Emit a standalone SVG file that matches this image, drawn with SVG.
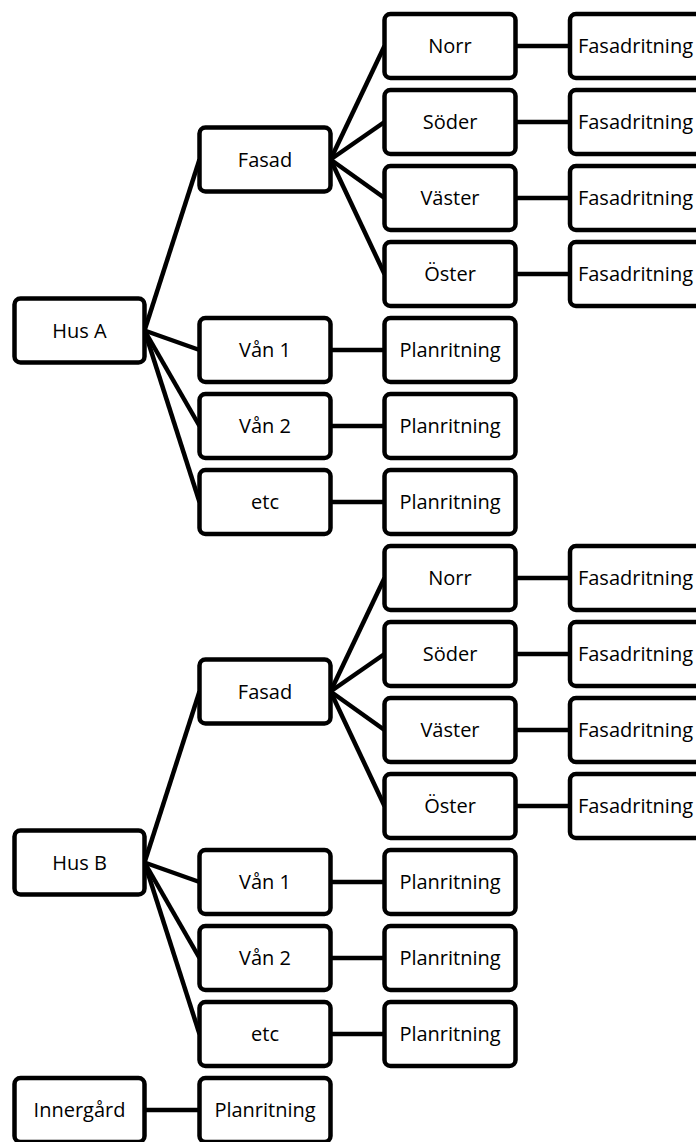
<svg xmlns="http://www.w3.org/2000/svg" width="696" height="1142" viewBox="0 0 696 1142">
<style>
.b{fill:#fff;stroke:#000;stroke-width:4.5}
.c line{stroke:#000;stroke-width:4.5}
text{font-family:"Open Sans","Liberation Sans",sans-serif;font-size:20px;text-anchor:middle;fill:#000}
</style>
<defs>
<rect id="r0" class="b" x="0" y="0" width="130" height="64" rx="6"/>
<rect id="r1" class="b" x="0" y="0" width="131" height="64" rx="6"/>
</defs>
<g class="c" id="connectors">
<line x1="144.5" y1="330.5" x2="199.5" y2="159.5"/>
<line x1="144.5" y1="330.5" x2="199.5" y2="350"/>
<line x1="144.5" y1="330.5" x2="199.5" y2="426"/>
<line x1="144.5" y1="330.5" x2="199.5" y2="502"/>
<line x1="330.5" y1="159.5" x2="384.5" y2="46"/>
<line x1="330.5" y1="159.5" x2="384.5" y2="122"/>
<line x1="330.5" y1="159.5" x2="384.5" y2="198"/>
<line x1="330.5" y1="159.5" x2="384.5" y2="274"/>
<line x1="515.5" y1="46" x2="570" y2="46"/>
<line x1="515.5" y1="122" x2="570" y2="122"/>
<line x1="515.5" y1="198" x2="570" y2="198"/>
<line x1="515.5" y1="274" x2="570" y2="274"/>
<line x1="330.5" y1="350" x2="384.5" y2="350"/>
<line x1="330.5" y1="426" x2="384.5" y2="426"/>
<line x1="330.5" y1="502" x2="384.5" y2="502"/>
<line x1="144.5" y1="862.5" x2="199.5" y2="691.5"/>
<line x1="144.5" y1="862.5" x2="199.5" y2="882"/>
<line x1="144.5" y1="862.5" x2="199.5" y2="958"/>
<line x1="144.5" y1="862.5" x2="199.5" y2="1034"/>
<line x1="330.5" y1="691.5" x2="384.5" y2="578"/>
<line x1="330.5" y1="691.5" x2="384.5" y2="654"/>
<line x1="330.5" y1="691.5" x2="384.5" y2="730"/>
<line x1="330.5" y1="691.5" x2="384.5" y2="806"/>
<line x1="515.5" y1="578" x2="570" y2="578"/>
<line x1="515.5" y1="654" x2="570" y2="654"/>
<line x1="515.5" y1="730" x2="570" y2="730"/>
<line x1="515.5" y1="806" x2="570" y2="806"/>
<line x1="330.5" y1="882" x2="384.5" y2="882"/>
<line x1="330.5" y1="958" x2="384.5" y2="958"/>
<line x1="330.5" y1="1034" x2="384.5" y2="1034"/>
<line x1="144.5" y1="1110" x2="199.5" y2="1110"/>
</g>
<!-- Hus A -->
<g id="husA"><use href="#r0" x="14.5" y="298.5"/><text x="79.5" y="337.5">Hus A</text></g>
<g id="fasadA"><use href="#r1" x="199.5" y="127.5"/><text x="265" y="166.5">Fasad</text></g>
<g id="norrA"><use href="#r1" x="384.5" y="14"/><text x="450" y="53">Norr</text></g>
<g id="soderA"><use href="#r1" x="384.5" y="90"/><text x="450" y="129">Söder</text></g>
<g id="vasterA"><use href="#r1" x="384.5" y="166"/><text x="450" y="205">Väster</text></g>
<g id="osterA"><use href="#r1" x="384.5" y="242"/><text x="450" y="281">Öster</text></g>
<g id="fr1A"><use href="#r1" x="570" y="14"/><text x="635.5" y="53">Fasadritning</text></g>
<g id="fr2A"><use href="#r1" x="570" y="90"/><text x="635.5" y="129">Fasadritning</text></g>
<g id="fr3A"><use href="#r1" x="570" y="166"/><text x="635.5" y="205">Fasadritning</text></g>
<g id="fr4A"><use href="#r1" x="570" y="242"/><text x="635.5" y="281">Fasadritning</text></g>
<g id="van1A"><use href="#r1" x="199.5" y="318"/><text x="265" y="357">Vån 1</text></g>
<g id="van2A"><use href="#r1" x="199.5" y="394"/><text x="265" y="433">Vån 2</text></g>
<g id="etcA"><use href="#r1" x="199.5" y="470"/><text x="265" y="509">etc</text></g>
<g id="pr1A"><use href="#r1" x="384.5" y="318"/><text x="450" y="357">Planritning</text></g>
<g id="pr2A"><use href="#r1" x="384.5" y="394"/><text x="450" y="433">Planritning</text></g>
<g id="pr3A"><use href="#r1" x="384.5" y="470"/><text x="450" y="509">Planritning</text></g>
<!-- Hus B -->
<g id="husB"><use href="#r0" x="14.5" y="830.5"/><text x="79.5" y="869.5">Hus B</text></g>
<g id="fasadB"><use href="#r1" x="199.5" y="659.5"/><text x="265" y="698.5">Fasad</text></g>
<g id="norrB"><use href="#r1" x="384.5" y="546"/><text x="450" y="585">Norr</text></g>
<g id="soderB"><use href="#r1" x="384.5" y="622"/><text x="450" y="661">Söder</text></g>
<g id="vasterB"><use href="#r1" x="384.5" y="698"/><text x="450" y="737">Väster</text></g>
<g id="osterB"><use href="#r1" x="384.5" y="774"/><text x="450" y="813">Öster</text></g>
<g id="fr1B"><use href="#r1" x="570" y="546"/><text x="635.5" y="585">Fasadritning</text></g>
<g id="fr2B"><use href="#r1" x="570" y="622"/><text x="635.5" y="661">Fasadritning</text></g>
<g id="fr3B"><use href="#r1" x="570" y="698"/><text x="635.5" y="737">Fasadritning</text></g>
<g id="fr4B"><use href="#r1" x="570" y="774"/><text x="635.5" y="813">Fasadritning</text></g>
<g id="van1B"><use href="#r1" x="199.5" y="850"/><text x="265" y="889">Vån 1</text></g>
<g id="van2B"><use href="#r1" x="199.5" y="926"/><text x="265" y="965">Vån 2</text></g>
<g id="etcB"><use href="#r1" x="199.5" y="1002"/><text x="265" y="1041">etc</text></g>
<g id="pr1B"><use href="#r1" x="384.5" y="850"/><text x="450" y="889">Planritning</text></g>
<g id="pr2B"><use href="#r1" x="384.5" y="926"/><text x="450" y="965">Planritning</text></g>
<g id="pr3B"><use href="#r1" x="384.5" y="1002"/><text x="450" y="1041">Planritning</text></g>
<!-- Innergård -->
<g id="innergard"><use href="#r0" x="14.5" y="1078"/><text x="79.5" y="1117">Innergård</text></g>
<g id="prI"><use href="#r1" x="199.5" y="1078"/><text x="265" y="1117">Planritning</text></g>
</svg>
